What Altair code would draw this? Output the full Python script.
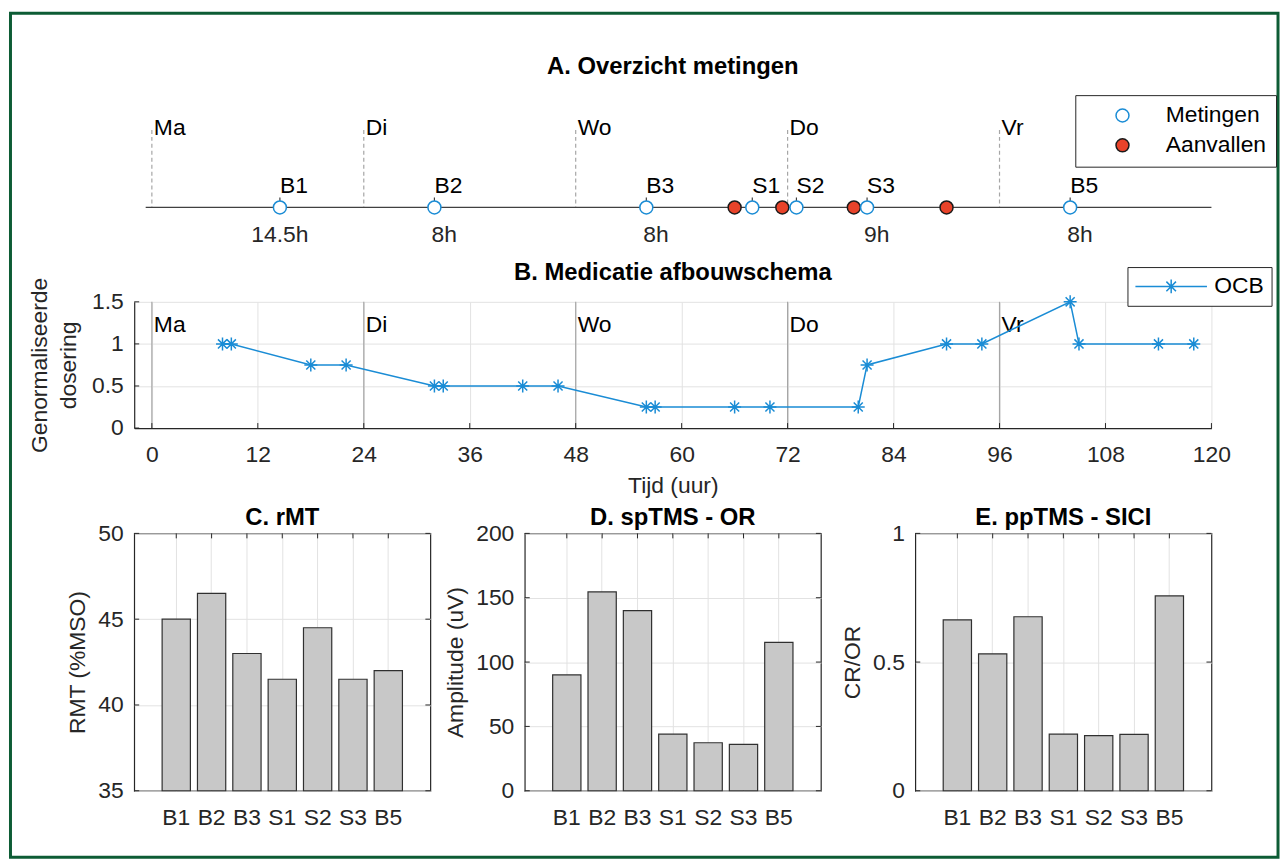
import altair as alt
import pandas as pd

# ---------------- data ----------------
day_names = ["Ma", "Di", "Wo", "Do", "Vr"]
day_hours = [0, 24, 48, 72, 96]

meas_names = ["B1", "B2", "B3", "S1", "S2", "S3", "B5"]
meas_hours = [14.5, 32, 56, 68, 73, 81, 104]
attack_hours = [66, 71.4, 79.5, 90]
dur_labels = ["14.5h", "8h", "8h", "9h", "8h"]
dur_hours = [11.6, 32, 56, 81, 104]
timeline_start = [-0.7]
timeline_end = [120]

dose_hours = [8, 9, 18, 22, 32, 33, 42, 46, 56, 57, 66, 70, 80, 81, 90, 94, 104, 105, 114, 118]
dose_values = [1, 1, 0.75, 0.75, 0.5, 0.5, 0.5, 0.5, 0.25, 0.25, 0.25, 0.25, 0.25, 0.75,
               1, 1, 1.5, 1, 1, 1]
hour_ticks = list(range(0, 121, 12))
dose_ticks = [0, 0.5, 1, 1.5]

rmt_values = [45, 46.5, 43, 41.5, 44.5, 41.5, 42]
amp_values = [90, 154.5, 140, 44, 37.3, 36, 115.3]
sici_values = [0.664, 0.532, 0.676, 0.22, 0.214, 0.219, 0.757]

# ---------------- style ----------------
FONT = "Liberation Sans"
FS = 23
TFS = 24
BLUE = "#1A8CD5"
RED = "#E8432A"
BARC = "#C8C8C8"
AX = "#262626"
GRID = "#E2E2E2"
DAYLINE = "#A6A6A6"
GREEN = "#0D5C35"
W = 1084
SP = 106
A_H = 94
B_H = 127
C_H = 259
C_W = 298
TK = 5
ASTERISK = "M-1,0L1,0M0,-1L0,1M-0.7,-0.7L0.7,0.7M-0.7,0.7L0.7,-0.7"
LEG_PATH = ("M-3.13,0L3.13,0M0,-0.6L0,0.6M-0.42,-0.42L0.42,0.42"
            "M-0.42,0.42L0.42,-0.42")

xscale = alt.Scale(domain=[-2, 120], nice=False, zero=False)
no_view = alt.ViewBackground(stroke="transparent")


def ptitle(text, offset):
    return alt.TitleParams(text=text, fontSize=TFS, font=FONT, fontWeight="bold",
                           color="black", anchor="middle", frame="group", offset=offset)


# ---------------- panel A ----------------
days_df = pd.DataFrame({"hour": day_hours, "day": day_names})
meas_df = pd.DataFrame({"hour": meas_hours, "name": meas_names})
events_df = pd.DataFrame({
    "hour": attack_hours + meas_hours,
    "type": ["Aanvallen"] * len(attack_hours) + ["Metingen"] * len(meas_hours),
})
dur_df = pd.DataFrame({"hour": dur_hours, "label": dur_labels})
line_df = pd.DataFrame({"start": timeline_start, "end": timeline_end})
title_df = pd.DataFrame({"t": ["A. Overzicht metingen"]})

xA = alt.X("hour:Q", scale=xscale, axis=None)
ev_domain = ["Metingen", "Aanvallen"]
legA = alt.Legend(title=None, orient="none", legendX=947, legendY=-8,
                  direction="vertical", strokeColor=AX, fillColor="white",
                  padding=9, symbolOffset=27, labelOffset=32, labelFontSize=FS,
                  labelFont=FONT, labelColor="black", rowPadding=6, symbolSize=170,
                  symbolStrokeWidth=1.5, symbolType="circle", labelLimit=300)

a_frame = alt.Chart(title_df).mark_rect(fillOpacity=0, stroke=GREEN, strokeWidth=3).encode(
    x=alt.value(-124.5), x2=alt.value(1151), y=alt.value(-90.5), y2=alt.value(759))
a_title = alt.Chart(title_df).mark_text(align="center", baseline="middle", fontSize=TFS,
                                        font=FONT, fontWeight="bold", color="black").encode(
    x=alt.value(W / 2), y=alt.value(-36), text="t:N")
a_dayrules = alt.Chart(days_df).mark_rule(color=DAYLINE, strokeDash=[4, 3], strokeWidth=1.2).encode(
    x=xA, y=alt.value(27), y2=alt.value(105))
a_daytext = alt.Chart(days_df).mark_text(align="left", baseline="middle", dx=2, fontSize=FS,
                                         font=FONT, color="black").encode(
    x=xA, y=alt.value(25), text="day:N")
a_line = alt.Chart(line_df).mark_rule(color="#404040", strokeWidth=1.2).encode(
    x=alt.X("start:Q", scale=xscale, axis=None), x2="end:Q", y=alt.value(105))
a_stems = alt.Chart(meas_df).mark_rule(color="#404040", strokeWidth=1.2).encode(
    x=xA, y=alt.value(95), y2=alt.value(105))
a_points = alt.Chart(events_df).mark_point(filled=True, size=170, strokeWidth=1.5, opacity=1,
                                           shape="circle").encode(
    x=xA, y=alt.value(105),
    fill=alt.Fill("type:N", scale=alt.Scale(domain=ev_domain, range=["white", RED]), legend=legA),
    stroke=alt.Stroke("type:N", scale=alt.Scale(domain=ev_domain, range=[BLUE, "#1A1A1A"]),
                      legend=legA),
)
a_names = alt.Chart(meas_df).mark_text(align="left", baseline="middle", fontSize=FS, font=FONT,
                                       color="black").encode(
    x=xA, y=alt.value(83), text="name:N")
a_durs = alt.Chart(dur_df).mark_text(align="left", baseline="middle", dx=-3, fontSize=FS,
                                     font=FONT, color=AX).encode(
    x=xA, y=alt.value(133), text="label:N")

panelA = alt.layer(a_frame, a_title, a_dayrules, a_daytext, a_line, a_stems, a_points,
                   a_names, a_durs).properties(width=W, height=A_H, view=no_view)

# ---------------- panel B ----------------
dose_df = pd.DataFrame({"hour": dose_hours, "dose": dose_values,
                        "reeks": ["OCB"] * len(dose_hours)})
htick_df = pd.DataFrame({"hour": hour_ticks})
dtick_df = pd.DataFrame({"dose": dose_ticks})
xaxisB = alt.Axis(values=hour_ticks, title="Tijd (uur)", grid=True, domain=True,
                  labelPadding=16, titlePadding=8, labelFlush=False, format="d")
yaxisB = alt.Axis(values=dose_ticks, format="~r", title=["Genormaliseerde", "dosering"],
                  grid=True, domain=True, labelPadding=11, titlePadding=11,
                  titleLineHeight=29, labelFlush=False)
xB = alt.X("hour:Q", scale=xscale, axis=xaxisB)
yB = alt.Y("dose:Q", scale=alt.Scale(domain=[0, 1.5], nice=False, zero=False), axis=yaxisB)
legB = alt.Legend(title=None, orient="none", legendX=999.5, legendY=A_H + SP - 35,
                  strokeColor=AX, fillColor="white", padding=7, symbolType=LEG_PATH,
                  symbolSize=529, symbolStrokeWidth=1.5, symbolFillColor="transparent",
                  symbolOffset=24.5, labelOffset=30.8, labelFontSize=FS, labelFont=FONT,
                  labelColor="black")

b_dayrules = alt.Chart(days_df).mark_rule(color=DAYLINE, strokeWidth=1.2).encode(
    x=xB, y=alt.value(0), y2=alt.value(B_H))
b_xticks = alt.Chart(htick_df).mark_rule(color=AX, strokeWidth=1).encode(
    x=xB, y=alt.value(B_H - TK), y2=alt.value(B_H))
b_yticks = alt.Chart(dtick_df).mark_rule(color=AX, strokeWidth=1).encode(
    y=yB, x=alt.value(0), x2=alt.value(TK))
b_daytext = alt.Chart(days_df).mark_text(align="left", baseline="middle", dx=2, fontSize=FS,
                                         font=FONT, color="black").encode(
    x=xB, y=alt.value(23), text="day:N")
b_line = alt.Chart(dose_df).mark_line(strokeWidth=1.5).encode(
    x=xB, y=yB,
    color=alt.Color("reeks:N", scale=alt.Scale(range=[BLUE]), legend=legB))
b_pts = alt.Chart(dose_df).mark_point(shape=ASTERISK, size=170, filled=False, color=BLUE,
                                      strokeWidth=1.5, opacity=1).encode(x=xB, y=yB)

panelB = alt.layer(b_dayrules, b_xticks, b_yticks, b_daytext, b_line, b_pts).properties(
    width=W, height=B_H, title=ptitle("B. Medicatie afbouwschema", -8), view=no_view)


# ---------------- panels C, D, E ----------------
def bar_panel(values, ymin, ymax, yticks, title, ytitle):
    df = pd.DataFrame({"meting": meas_names, "waarde": values})
    cat_df = pd.DataFrame({"meting": meas_names})
    val_df = pd.DataFrame({"waarde": yticks})
    x = alt.X("meting:N", sort=meas_names,
              scale=alt.Scale(paddingInner=0.2, paddingOuter=0.79),
              axis=alt.Axis(title=None, labelAngle=0, grid=True, domain=False,
                            labelPadding=16, bandPosition=0.5))
    y = alt.Y("waarde:Q", scale=alt.Scale(domain=[ymin, ymax], nice=False, zero=False),
              axis=alt.Axis(values=yticks, format="~r", title=ytitle, grid=True, domain=False,
                            labelPadding=11, titlePadding=8, labelFlush=False))
    tick_top = alt.Chart(cat_df).mark_rule(color=AX, strokeWidth=1).encode(
        x=x, y=alt.value(0), y2=alt.value(TK))
    tick_bot = alt.Chart(cat_df).mark_rule(color=AX, strokeWidth=1).encode(
        x=x, y=alt.value(C_H - TK), y2=alt.value(C_H))
    tick_left = alt.Chart(val_df).mark_rule(color=AX, strokeWidth=1).encode(
        y=y, x=alt.value(0), x2=alt.value(TK))
    tick_right = alt.Chart(val_df).mark_rule(color=AX, strokeWidth=1).encode(
        y=y, x=alt.value(C_W - TK), x2=alt.value(C_W))
    bars = alt.Chart(df).mark_bar(fill=BARC, stroke="#303030", strokeWidth=1.2, opacity=1).encode(
        x=x, y=y, y2=alt.datum(ymin))
    return alt.layer(tick_top, tick_bot, tick_left, tick_right, bars).properties(
        width=C_W, height=C_H, title=ptitle(title, -8),
        view=alt.ViewBackground(stroke=AX, strokeWidth=1.2))


panelC = bar_panel(rmt_values, 35, 50, [35, 40, 45, 50], "C. rMT", "RMT (%MSO)")
panelD = bar_panel(amp_values, 0, 200, [0, 50, 100, 150, 200], "D. spTMS - OR", "Amplitude (uV)")
panelE = bar_panel(sici_values, 0, 1, [0, 0.5, 1], "E. ppTMS - SICI", "CR/OR")
row = alt.hconcat(panelC, panelD, panelE, spacing=95, bounds="flush")

chart = alt.vconcat(panelA, panelB, row, spacing=SP, bounds="flush").properties(
    padding=0
).configure(background="white").configure_axis(
    labelFontSize=FS, titleFontSize=FS, labelFont=FONT, titleFont=FONT, labelColor=AX,
    titleColor=AX, titleFontWeight="normal", gridColor=GRID, gridWidth=1, domainColor=AX,
    domainWidth=1.2, ticks=False, tickSize=0
)

chart.save("out.html", embed_options={"renderer": "svg", "actions": False})
